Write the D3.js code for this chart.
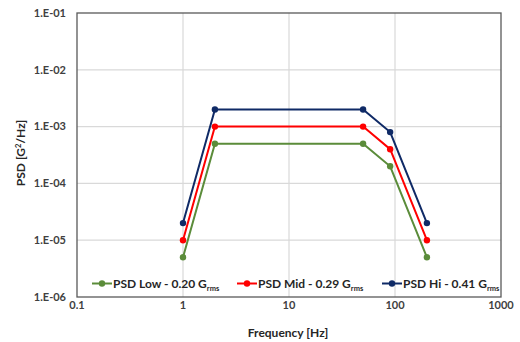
<!DOCTYPE html>
<html><head><meta charset="utf-8">
<script src="https://cdn.jsdelivr.net/npm/d3@7"></script>
<style>body{margin:0;background:#fff}svg{display:block}</style>
</head><body>
<svg id="c" width="520" height="342"></svg>
<script>
const freqs = [1, 2, 50, 90, 200];
const psdLow = [5e-6, 5e-4, 5e-4, 2e-4, 5e-6];
const psdMid = [1e-5, 1e-3, 1e-3, 4e-4, 1e-5];
const psdHi  = [2e-5, 2e-3, 2e-3, 8e-4, 2e-5];
const seriesNames = ["PSD Low - 0.20 G", "PSD Mid - 0.29 G", "PSD Hi - 0.41 G"];
const seriesColors = ["#5b8c3a", "#ff0000", "#0f2a66"];
const xTicks = [0.1, 1, 10, 100, 1000];
const xTickLabels = ["0.1", "1", "10", "100", "1000"];
const yTicks = [1e-6, 1e-5, 1e-4, 1e-3, 1e-2, 1e-1];
const yTickLabels = ["1.E-06", "1.E-05", "1.E-04", "1.E-03", "1.E-02", "1.E-01"];

const svg = d3.select("#c");
const L = 77, R = 501, T = 13, B = 297;
const x = d3.scaleLog().domain([0.1, 1000]).range([L, R]);
const y = d3.scaleLog().domain([1e-6, 1e-1]).range([B, T]);
const font = "Lato, 'Open Sans', sans-serif";

// gridlines
svg.append("g").selectAll("line").data(yTicks.slice(1, -1)).join("line")
  .attr("x1", L).attr("x2", R).attr("y1", d => y(d)).attr("y2", d => y(d))
  .attr("stroke", "#d9d9d9").attr("stroke-width", 1.2);
svg.append("g").selectAll("line").data(xTicks.slice(1, -1)).join("line")
  .attr("y1", T).attr("y2", B).attr("x1", d => x(d)).attr("x2", d => x(d))
  .attr("stroke", "#d9d9d9").attr("stroke-width", 1.2);

// border
svg.append("rect").attr("x", L).attr("y", T).attr("width", R - L).attr("height", B - T)
  .attr("fill", "none").attr("stroke", "#595959").attr("stroke-width", 1.3);

// y tick labels
svg.append("g").selectAll("text").data(yTicks).join("text")
  .attr("x", 66).attr("y", d => y(d)).attr("dy", "0.35em")
  .attr("text-anchor", "end").attr("font-family", font).attr("font-weight", "bold")
  .attr("font-size", 11).attr("fill", "#404040")
  .text((d, i) => yTickLabels[i]);

// x tick labels
svg.append("g").selectAll("text").data(xTicks).join("text")
  .attr("x", d => x(d)).attr("y", 305).attr("dy", "0.35em")
  .attr("text-anchor", "middle").attr("font-family", font).attr("font-weight", "bold")
  .attr("font-size", 11).attr("fill", "#404040")
  .text((d, i) => xTickLabels[i]);

// axis titles
svg.append("text").attr("x", 288).attr("y", 333).attr("dy", "0.35em")
  .attr("text-anchor", "middle").attr("font-family", font).attr("font-weight", "bold")
  .attr("font-size", 12).attr("fill", "#262626").text("Frequency [Hz]");
const yt = svg.append("text").attr("transform", "translate(21,153) rotate(-90)")
  .attr("text-anchor", "middle").attr("dy", "0.35em").attr("font-family", font)
  .attr("font-weight", "bold").attr("font-size", 12).attr("fill", "#262626");
yt.append("tspan").text("PSD [G");
yt.append("tspan").attr("font-size", 7.5).attr("dy", "-0.5em").text("2");
yt.append("tspan").attr("dy", "0.3em").text("/Hz]");

// series
const allSeries = [psdLow, psdMid, psdHi];
const line = d3.line().x(d => x(d[0])).y(d => y(d[1]));
allSeries.forEach((vals, i) => {
  const pts = freqs.map((f, j) => [f, vals[j]]);
  const g = svg.append("g");
  g.append("path").attr("d", line(pts)).attr("fill", "none")
    .attr("stroke", seriesColors[i]).attr("stroke-width", 2);
  g.selectAll("circle").data(pts).join("circle")
    .attr("cx", d => x(d[0])).attr("cy", d => y(d[1])).attr("r", 3.2)
    .attr("fill", seriesColors[i]);
});

// legend
const legX = [92, 237, 382];
const legY = 283.5;
seriesNames.forEach((name, i) => {
  const g = svg.append("g");
  g.append("line").attr("x1", legX[i]).attr("x2", legX[i] + 20)
    .attr("y1", legY).attr("y2", legY).attr("stroke", seriesColors[i]).attr("stroke-width", 2);
  g.append("circle").attr("cx", legX[i] + 10).attr("cy", legY).attr("r", 3.2).attr("fill", seriesColors[i]);
  const t = g.append("text").attr("x", legX[i] + 21).attr("y", legY).attr("dy", "0.35em")
    .attr("font-family", font).attr("font-weight", "bold").attr("font-size", 12).attr("fill", "#262626");
  t.append("tspan").text(name);
  t.append("tspan").attr("font-size", 7.5).attr("dy", "0.45em").text("rms");
});
</script>
</body></html>
